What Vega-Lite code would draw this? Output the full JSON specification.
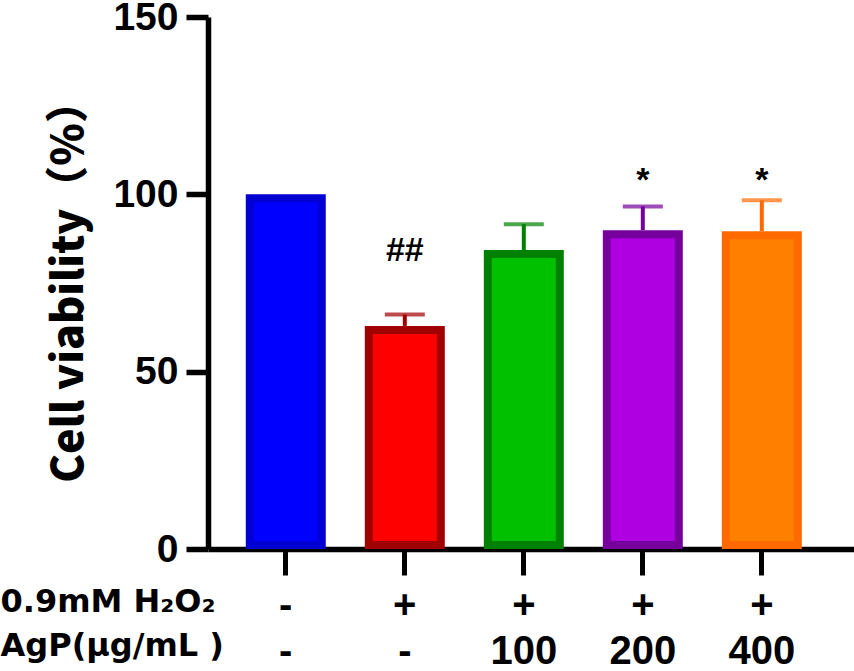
{
  "$schema": "https://vega.github.io/schema/vega-lite/v6.json",
  "autosize": "none",
  "padding": {"left": 208, "top": 17, "right": 0, "bottom": 122},
  "width": 646,
  "height": 532,
  "background": "white",
  "data": {
    "values": [
      {"group": "-/-", "viability": 100, "upper": 100, "sig": "", "sig_y": 0},
      {"group": "+/-", "viability": 62.9, "upper": 66.1, "sig": "##", "sig_y": 84},
      {"group": "+/100", "viability": 84.3, "upper": 91.6, "sig": "", "sig_y": 0},
      {"group": "+/200", "viability": 89.9, "upper": 96.6, "sig": "*", "sig_y": 103.7},
      {"group": "+/400", "viability": 89.6, "upper": 98.3, "sig": "*", "sig_y": 103.7}
    ]
  },
  "encoding": {
    "x": {
      "field": "group",
      "type": "nominal",
      "sort": null,
      "scale": {"paddingInner": 0.328, "paddingOuter": 0.378, "align": 0.42},
      "axis": {
        "title": ["0.9mM H₂O₂", "AgP(μg/mL )"],
        "titleFont": "DejaVu Sans",
        "titleFontSize": 32,
        "titleFontWeight": "bold",
        "titleLineHeight": 44,
        "titleAlign": "left",
        "titleBaseline": "alphabetic",
        "titleAngle": 0,
        "titleX": -208,
        "titleY": 62,
        "labelExpr": "split(datum.value, '/')",
        "labelAngle": 0,
        "labelFont": "Liberation Sans",
        "labelFontSize": 40,
        "labelFontWeight": "bold",
        "labelLineHeight": 46,
        "labelBaseline": "top",
        "labelPadding": 10,
        "labelColor": "black",
        "tickSize": 26,
        "tickWidth": 5,
        "tickColor": "black",
        "domainWidth": 5.5,
        "domainColor": "black"
      }
    }
  },
  "layer": [
    {
      "mark": {"type": "bar"},
      "encoding": {
        "y": {
          "field": "viability",
          "type": "quantitative",
          "scale": {"domain": [0, 150], "nice": false},
          "axis": {
            "title": "Cell viability（%）",
            "titleFont": "Noto Sans CJK SC",
            "titleFontSize": 43,
            "titleFontWeight": 900,
            "titleColor": "black",
            "titleAngle": -90,
            "titleAlign": "center",
            "titleBaseline": "alphabetic",
            "titleX": -126,
            "titleY": 264,
            "values": [0, 50, 100, 150],
            "grid": false,
            "labelFont": "Liberation Sans",
            "labelFontSize": 39,
            "labelFontWeight": "bold",
            "labelColor": "black",
            "labelPadding": 8,
            "tickSize": 22,
            "tickWidth": 5.5,
            "tickColor": "black",
            "domainWidth": 5.5,
            "domainColor": "black"
          }
        },
        "color": {
          "field": "group",
          "type": "nominal",
          "legend": null,
          "scale": {
            "domain": ["-/-", "+/-", "+/100", "+/200", "+/400"],
            "range": ["#0000D2", "#A00000", "#008000", "#75009B", "#FF6A00"]
          }
        }
      }
    },
    {
      "mark": {"type": "bar", "width": 64, "yOffset": 8, "y2Offset": -8},
      "encoding": {
        "y": {"field": "viability", "type": "quantitative"},
        "y2": {"datum": 0},
        "fill": {
          "field": "group",
          "type": "nominal",
          "legend": null,
          "scale": {
            "domain": ["-/-", "+/-", "+/100", "+/200", "+/400"],
            "range": ["#0000FF", "#FF0000", "#00C000", "#AE00E0", "#FF8000"]
          }
        }
      }
    },
    {
      "transform": [{"filter": "datum.upper > datum.viability"}],
      "mark": {"type": "rule", "strokeWidth": 4},
      "encoding": {
        "y": {"field": "viability", "type": "quantitative"},
        "y2": {"field": "upper"},
        "color": {"field": "group", "type": "nominal", "legend": null}
      }
    },
    {
      "transform": [{"filter": "datum.upper > datum.viability"}],
      "mark": {"type": "tick", "size": 40, "thickness": 4, "orient": "horizontal"},
      "encoding": {
        "y": {"field": "upper", "type": "quantitative"},
        "color": {"field": "group", "type": "nominal", "legend": null}
      }
    },
    {
      "transform": [{"filter": "datum.sig != ''"}],
      "mark": {
        "type": "text",
        "font": "Liberation Sans",
        "fontSize": 34,
        "fontWeight": "bold",
        "baseline": "middle",
        "color": "black"
      },
      "encoding": {
        "y": {"field": "sig_y", "type": "quantitative"},
        "text": {"field": "sig"}
      }
    }
  ],
  "config": {"view": {"stroke": null}}
}
